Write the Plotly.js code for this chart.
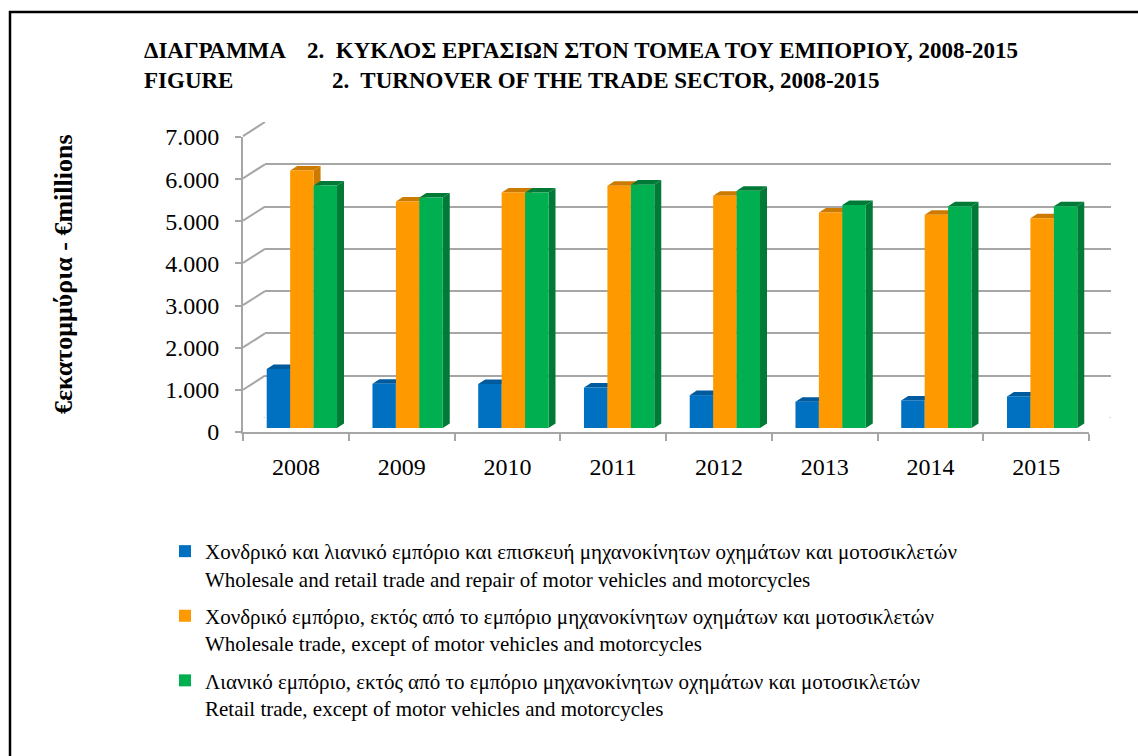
<!DOCTYPE html>
<html>
<head>
<meta charset="utf-8">
<script src="https://cdn.plot.ly/plotly-3.0.1.min.js"></script>
<style>
html,body{margin:0;padding:0;background:#fff;}
#chart{width:1138px;height:756px;}
</style>
</head>
<body>
<div id="chart"></div>
<script>
// ---- data ----
const years = ['2008','2009','2010','2011','2012','2013','2014','2015'];
const motorTrade = [1400,1050,1045,960,780,625,655,750];
const wholesale  = [6110,5375,5590,5750,5510,5115,5060,4975];
const retail     = [5755,5470,5590,5775,5630,5290,5260,5260];
const seriesNames = [
  'Χονδρικό και λιανικό εμπόριο και επισκευή μηχανοκίνητων οχημάτων και μοτοσικλετών<br>Wholesale and retail trade and repair of motor vehicles and motorcycles',
  'Χονδρικό εμπόριο, εκτός από το εμπόριο μηχανοκίνητων οχημάτων και μοτοσικλετών<br>Wholesale trade, except of motor vehicles and motorcycles',
  'Λιανικό εμπόριο, εκτός από το εμπόριο μηχανοκίνητων οχημάτων και μοτοσικλετών<br>Retail trade, except of motor vehicles and motorcycles'
];
const yTicks = [0,1000,2000,3000,4000,5000,6000,7000];

// ---- styling / geometry ----
const W = 1138, H = 756;
const px = v => v / W;
const py = v => 1 - v / H;
const frontColors = ['#0070C0', '#FF9900', '#00B050'];
const darkColors  = ['#005A9E', '#CC7A00', '#007A36'];
const BW = 0.2216, OFF0 = -0.323;   // bar width & first offset (category units)
const DX = 0.066, DY = 107;         // 3D depth of bars (x units, value units)
const WALL_DV = 332;                // back wall vertical shift in value units
const FONT = 'Liberation Serif, DejaVu Serif, Times New Roman, serif';
const GRID = '#A6A6A6';
const seriesVals = [motorTrade, wholesale, retail];
const xIdx = years.map((_, i) => i);

const data = [];
data.push({type:'scatter', x: years, y: wholesale, mode:'none', xaxis:'x', yaxis:'y', showlegend:false, hoverinfo:'skip'});
data.push({type:'scatter', x: years, y: wholesale, mode:'none', xaxis:'x2', yaxis:'y2', showlegend:false, hoverinfo:'skip'});

// 3D top and side faces (lower layer)
seriesVals.forEach((vals, s) => {
  const tx = [], ty = [], sx = [], sy = [];
  vals.forEach((v, i) => {
    const L = xIdx[i] + OFF0 + s * BW, R = L + BW;
    tx.push(L, R, R + DX, L + DX, L, null);
    ty.push(v, v, v + DY, v + DY, v, null);
    sx.push(R, R, R + DX, R + DX, R, null);
    sy.push(0, v, v + DY, DY, 0, null);
  });
  const common = {type:'scatter', mode:'lines', fill:'toself', line:{width:0, color:darkColors[s]},
    fillcolor: darkColors[s], xaxis:'x3', yaxis:'y3', showlegend:false, hoverinfo:'skip', connectgaps:false};
  data.push(Object.assign({x: tx, y: ty}, common));
  data.push(Object.assign({x: sx, y: sy}, common));
});

// front faces: the real bars (upper layer)
seriesVals.forEach((vals, s) => {
  data.push({
    type:'bar', x: xIdx, y: vals, name: seriesNames[s],
    width: BW, offset: OFF0 + s * BW,
    marker:{color: frontColors[s], line:{width:0}},
    xaxis:'x4', yaxis:'y4', legendgroup:'g'+s, hoverinfo:'skip'
  });
});

// wall decorations: left wall diagonals + floor right edge
const shapes = [];
yTicks.forEach(t => {
  shapes.push({type:'line', xref:'paper', yref:'y2', x0:px(243), x1:px(265), y0:t - WALL_DV, y1:t,
    line:{color:GRID, width:2}, layer:'below'});
});
shapes.push({type:'line', xref:'paper', yref:'y2', x0:px(1089), x1:px(1111), y0:-WALL_DV, y1:0,
  line:{color:GRID, width:2}, layer:'below'});
// page frame (left and top)
shapes.push({type:'line', xref:'paper', yref:'paper', x0:px(10), x1:px(10), y0:py(11), y1:0, line:{color:'#000', width:2.5}});
shapes.push({type:'line', xref:'paper', yref:'paper', x0:px(9), x1:1, y0:py(12), y1:py(12), line:{color:'#000', width:2.5}});

const hidden = {showgrid:false, zeroline:false, showticklabels:false, showline:false, ticks:''};
const EPS = 2;
const backTop = 122 - EPS * 296 / 7000, backBot = 418 + EPS * 296 / 7000;

const TITLE_FONT = {family:FONT, size:23, color:'#000'};

const layout = {
  width: W, height: H,
  margin:{l:0, r:0, t:0, b:0, pad:0},
  paper_bgcolor:'#fff', plot_bgcolor:'rgba(0,0,0,0)',
  separators: ',.',
  font:{family: FONT, color:'#000'},
  barmode:'overlay',
  showlegend:true,
  xaxis:{type:'category', domain:[px(243), px(1089)], range:[-0.5, 7.5], anchor:'y',
    tickson:'boundaries', ticks:'outside', ticklen:7, tickwidth:2, tickcolor:GRID,
    showline:true, linecolor:GRID, linewidth:2, showgrid:false, zeroline:false,
    tickfont:{family:FONT, size:24, color:'#000'}, ticklabelstandoff:12, fixedrange:true},
  yaxis:{domain:[py(432), py(137)], range:[0, 7000], anchor:'x', tickvals: yTicks, tickformat:',d',
    ticks:'outside', ticklen:6, tickwidth:2, tickcolor:GRID,
    showline:true, linecolor:GRID, linewidth:2, showgrid:false, zeroline:false,
    tickfont:{family:FONT, size:24, color:'#000'}, ticklabelstandoff:11, fixedrange:true},
  xaxis2:Object.assign({type:'category', domain:[px(265), px(1111)], range:[-0.5, 7.5], anchor:'y2'}, hidden),
  yaxis2:Object.assign({}, hidden, {domain:[py(backBot), py(backTop)], range:[-EPS, 7000 + EPS], anchor:'x2', tickvals: yTicks,
    showgrid:true, gridcolor:GRID, gridwidth:2}),
  xaxis3:Object.assign({domain:[px(248), px(1094)], range:[-0.5, 7.5], anchor:'y3'}, hidden),
  yaxis3:Object.assign({domain:[py(428), py(133)], range:[0, 7000], anchor:'x3'}, hidden),
  xaxis4:Object.assign({domain:[px(248), px(1094)], range:[-0.5, 7.5], anchor:'y4'}, hidden),
  yaxis4:Object.assign({domain:[py(428), py(133)], range:[0, 7000], anchor:'x4'}, hidden),
  legend:{x:px(165), y:py(531), xanchor:'left', yanchor:'top', orientation:'v',
    traceorder:'grouped', tracegroupgap:7, valign:'top', bgcolor:'rgba(0,0,0,0)',
    font:{family:FONT, size:21, color:'#000'}},
  shapes: shapes,
  annotations:[
    {text:'<b>ΔΙΑΓΡΑΜΜΑ</b>', xref:'paper', yref:'paper', x:px(142), y:py(51), xanchor:'left', yanchor:'middle', showarrow:false, font:TITLE_FONT},
    {text:'<b>2.  ΚΥΚΛΟΣ ΕΡΓΑΣΙΩΝ ΣΤΟΝ ΤΟΜΕΑ ΤΟΥ ΕΜΠΟΡΙΟΥ, 2008-2015</b>', xref:'paper', yref:'paper', x:px(305), y:py(51), xanchor:'left', yanchor:'middle', showarrow:false, font:TITLE_FONT},
    {text:'<b>FIGURE</b>', xref:'paper', yref:'paper', x:px(142), y:py(80), xanchor:'left', yanchor:'middle', showarrow:false, font:TITLE_FONT},
    {text:'<b>2.  TURNOVER OF THE TRADE SECTOR, 2008-2015</b>', xref:'paper', yref:'paper', x:px(330), y:py(80), xanchor:'left', yanchor:'middle', showarrow:false, font:TITLE_FONT},
    {text:'<b>€εκατομμύρια - €millions</b>', xref:'paper', yref:'paper', x:px(63), y:py(274), xanchor:'center', yanchor:'middle', textangle:-90, showarrow:false, font:{family:FONT, size:26}}
  ]
};

Plotly.newPlot('chart', data, layout, {staticPlot:true, displayModeBar:false});
</script>
</body>
</html>
